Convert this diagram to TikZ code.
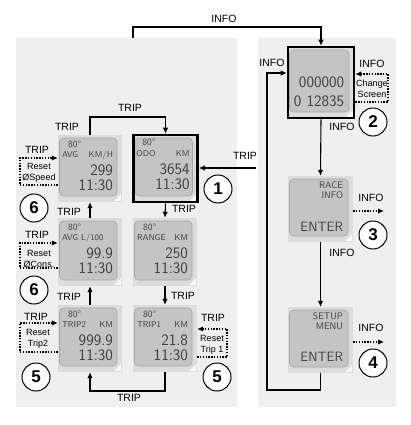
\documentclass[tikz,border=0pt]{standalone}
\usepackage{fontspec}
\setmainfont{Liberation Sans}
\usetikzlibrary{arrows.meta}
\definecolor{panelc}{HTML}{EFEFEF}
\definecolor{scrout}{HTML}{DCDCDC}
\definecolor{lcdc}{HTML}{C4C4C4}
\definecolor{lcdedge}{HTML}{A6A6A6}
\definecolor{lcdtext}{HTML}{404040}
\tikzset{
  panelbox/.style={fill=panelc, draw=none, inner sep=0pt},
  lcdscreen/.style={fill=scrout, draw=none, inner sep=0pt,
    path picture={
      \draw[lcdedge, fill=lcdc, line width=0.6pt, rounded corners=4pt]
        ([xshift=1.5pt,yshift=-3pt]path picture bounding box.north west) rectangle
        ([xshift=-5pt,yshift=6pt]path picture bounding box.south east);
      \fill[white!80!scrout]
        ([xshift=-1pt,yshift=1pt]path picture bounding box.south east) --
        ([xshift=-1pt,yshift=8pt]path picture bounding box.south east) --
        ([xshift=-8pt,yshift=1pt]path picture bounding box.south east) -- cycle;
    }},
  framed/.style={draw=black, line width=2.6pt},
  lcdsmall/.style={font=\sffamily\fontsize{8.5}{8.5}\selectfont, text=lcdtext, inner sep=0pt, text depth=0pt},
  lcdtemp/.style={font=\sffamily\fontsize{9.5}{9.5}\selectfont, text=lcdtext, inner sep=0pt, text depth=0pt},
  lcdbig/.style={font=\sffamily\fontsize{16}{16}\selectfont, text=lcdtext, inner sep=0pt, text depth=0pt},
  lcdenter/.style={font=\sffamily\fontsize{13.5}{13.5}\selectfont, text=lcdtext, inner sep=0pt, text depth=0pt},
  lbl/.style={font=\fontsize{10.5}{10.5}\selectfont, inner sep=0pt},
  resettxt/.style={font=\fontsize{9}{11}\selectfont, inner sep=0pt, align=center},
  numc/.style={circle, draw=black, line width=1pt, fill=white, minimum size=28pt, inner sep=0pt,
    font=\bfseries\fontsize{17}{17}\selectfont},
  arr/.style={draw=black, line width=1.1pt, -{Latex[length=6pt,width=5.5pt]}},
  dotarr/.style={draw=black, line width=1.1pt, dash pattern=on 1.4pt off 1.4pt, -{Latex[length=6pt,width=5.5pt]}},
}
\newcommand\tripscr[4]{%
  \node[lcdtemp, anchor=west] (#1-t) at ([xshift=10pt,yshift=-9pt]#1.north west) {80°};
  \node[lcdsmall, anchor=west] (#1-l) at ([xshift=4pt,yshift=-20pt]#1.north west) {#2};
  \node[lcdsmall, anchor=east] (#1-u) at ([xshift=-9pt,yshift=-20pt]#1.north east) {#3};
  \node[lcdbig, anchor=east] (#1-v) at ([xshift=-9pt,yshift=-35pt]#1.north east) {#4};
  \node[lcdbig, anchor=east] (#1-c) at ([xshift=-9pt,yshift=-50pt]#1.north east) {11:30};
}
\begin{document}
\begin{tikzpicture}[x=1pt,y=-1pt]
\useasboundingbox (0,0) rectangle (411,425);
\fill[white] (0,0) rectangle (411,425);
% panels
\node[panelbox, minimum width=221pt, minimum height=369pt] (lpanel) at (126.5,222.5) {};
\node[panelbox, minimum width=138pt, minimum height=369pt] (rpanel) at (327,222.5) {};

% left screens
\node[lcdscreen, minimum width=64pt, minimum height=67pt] (avg) at (90,168.5) {};
\node[lcdscreen, framed, minimum width=64pt, minimum height=67pt] (odo) at (165.5,168.5) {};
\node[lcdscreen, minimum width=64pt, minimum height=68pt] (cons) at (90,252) {};
\node[lcdscreen, minimum width=64pt, minimum height=68pt] (range) at (165,252) {};
\node[lcdscreen, minimum width=64pt, minimum height=67pt] (tripB) at (90,338.5) {};
\node[lcdscreen, minimum width=64pt, minimum height=67pt] (tripA) at (165,338.5) {};
\tripscr{avg}{AVG}{KM/H}{299}
\tripscr{odo}{ODO}{KM}{3654}
\tripscr{cons}{AVG L/100}{}{99.9}
\tripscr{range}{RANGE}{KM}{250}
\tripscr{tripB}{TRIP2}{KM}{999.9}
\tripscr{tripA}{TRIP1}{KM}{21.8}

% right screens
\node[lcdscreen, framed, minimum width=66pt, minimum height=71pt] (scr2) at (321,82.5) {};
\node[lcdbig, anchor=east] (scr2-a) at ([xshift=-11pt,yshift=-36pt]scr2.north east) {000000};
\node[lcdbig, anchor=east] (scr2-b) at ([xshift=-11pt,yshift=-55pt]scr2.north east) {0 12835};
\node[lcdscreen, minimum width=65pt, minimum height=66pt] (race) at (320.5,209) {};
\node[lcdtemp, anchor=east] (race-a) at ([xshift=-10pt,yshift=-9pt]race.north east) {RACE};
\node[lcdtemp, anchor=east] (race-b) at ([xshift=-10pt,yshift=-19pt]race.north east) {INFO};
\node[lcdenter, anchor=east] (race-c) at ([xshift=-10pt,yshift=-51pt]race.north east) {ENTER};
\node[lcdscreen, minimum width=65pt, minimum height=66pt] (setup) at (320.5,340) {};
\node[lcdtemp, anchor=east] (setup-a) at ([xshift=-10pt,yshift=-9pt]setup.north east) {SETUP};
\node[lcdtemp, anchor=east] (setup-b) at ([xshift=-10pt,yshift=-19pt]setup.north east) {MENU};
\node[lcdenter, anchor=east] (setup-c) at ([xshift=-10pt,yshift=-50pt]setup.north east) {ENTER};

% circles
\node[numc] (c1) at (218,189) {1};
\node[numc] (c2) at (373,122) {2};
\node[numc] (c3) at (373,235) {3};
\node[numc] (c4) at (373,363) {4};
\node[numc] (c6a) at (34,208) {6};
\node[numc] (c6b) at (34,290) {6};
\node[numc] (c5a) at (36,377) {5};
\node[numc] (c5b) at (217,377) {5};

% coordinates
\coordinate (infoStart) at (133,38);
\coordinate (infoTop) at (133,27);
\coordinate (rpEdge) at (256,168);
\coordinate (loopBR) at (320.5,390);
\coordinate (loopBL) at (267,390);
\coordinate (loopTL) at (267,73);
\coordinate (topL) at (90,117);
\coordinate (botR) at (165,391);
\coordinate (botL) at (90,391);

% INFO connectors
\draw[arr] (infoStart) -- (infoTop) -| (scr2.north);
\draw[arr] (scr2.south) -- (race.north);
\draw[arr] (race.south) -- (setup.north);
\draw[arr] (setup.south) -- (loopBR) -- (loopBL) -- (loopTL) -- (scr2.west |- loopTL);
% change screen
\coordinate (csTR) at (388,74);
\coordinate (csBR) at (388,102);
\draw[dotarr] (scr2.east |- csBR) -- (csBR) -- (csTR) -- (scr2.east |- csTR);
\node[resettxt] (cstext) at (372,89) {Change\\Screen};
\coordinate (raceOut) at (384,211);
\coordinate (setupOut) at (384,342);
\draw[dotarr] (race.east |- raceOut) -- (raceOut);
\draw[dotarr] (setup.east |- setupOut) -- (setupOut);

% TRIP connectors
\draw[arr] (rpEdge) -- (odo.east |- rpEdge);
\draw[arr] (odo.south) -- (range.north);
\draw[arr] (range.south) -- (tripA.north);
\draw[arr] (tripA.south) -- (botR) -- (botL) -- (tripB.south);
\draw[arr] (tripB.north) -- (cons.south);
\draw[arr] (cons.north) -- (avg.south);
\draw[arr] (avg.north) -- (topL) -| (odo.north);

% reset dotted boxes
\coordinate (r1t) at (20,158); \coordinate (r1b) at (20,185);
\draw[dotarr] (avg.west |- r1b) -- (r1b) -- (r1t) -- (avg.west |- r1t);
\node[resettxt] (r1txt) at (39,173) {Reset\\ØSpeed};
\coordinate (r2t) at (20,243); \coordinate (r2b) at (20,268);
\draw[dotarr] (cons.west |- r2b) -- (r2b) -- (r2t) -- (cons.west |- r2t);
\node[resettxt] (r2txt) at (39,259) {Reset\\ØCons.};
\coordinate (r3t) at (20,323); \coordinate (r3b) at (20,352);
\draw[dotarr] (tripB.west |- r3b) -- (r3b) -- (r3t) -- (tripB.west |- r3t);
\node[resettxt] (r3txt) at (38,339) {Reset\\Trip2};
\coordinate (r4t) at (227,329); \coordinate (r4b) at (227,357);
\draw[dotarr] (tripA.east |- r4b) -- (r4b) -- (r4t) -- (tripA.east |- r4t);
\node[resettxt] (r4txt) at (212,345) {Reset\\Trip 1};

% labels
\node[lbl] (lInfoTop) at (224,19) {INFO};
\node[lbl] (lInfo1) at (272,63) {INFO};
\node[lbl] (lInfo2) at (372,64) {INFO};
\node[lbl] (lInfo3) at (342,127) {INFO};
\node[lbl] (lInfo4) at (371,198) {INFO};
\node[lbl] (lInfo5) at (342,253) {INFO};
\node[lbl] (lInfo6) at (371,328) {INFO};
\node[lbl] (lTrip1) at (245,156) {TRIP};
\node[lbl] (lTrip2) at (130,108) {TRIP};
\node[lbl] (lTrip3) at (67,127) {TRIP};
\node[lbl] (lTrip4) at (37,150) {TRIP};
\node[lbl] (lTrip5) at (69,212) {TRIP};
\node[lbl] (lTrip6) at (184,209) {TRIP};
\node[lbl] (lTrip7) at (37,235) {TRIP};
\node[lbl] (lTrip8) at (69,297) {TRIP};
\node[lbl] (lTrip9) at (183,296) {TRIP};
\node[lbl] (lTrip10) at (36,317) {TRIP};
\node[lbl] (lTrip11) at (213,318) {TRIP};
\node[lbl] (lTrip12) at (129,398) {TRIP};
\end{tikzpicture}
\end{document}
